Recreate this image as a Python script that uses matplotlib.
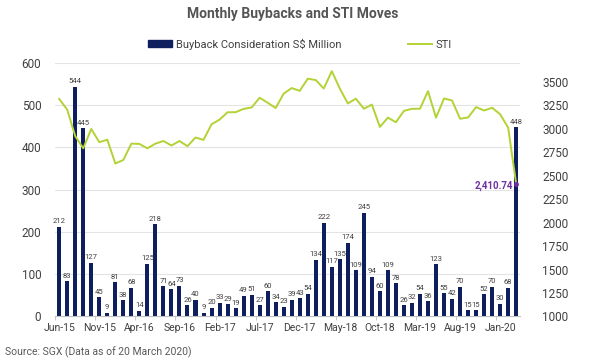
import numpy as np
import matplotlib
matplotlib.use("Agg")
import matplotlib.pyplot as plt
from matplotlib.patches import Patch
from matplotlib.lines import Line2D

plt.rcParams['font.family'] = ['Roboto', 'DejaVu Sans']

# Datos: recompras mensuales (S$ millones) y cierre mensual del STI
meses = ["Jun-15", "Jul-15", "Aug-15", "Sep-15", "Oct-15", "Nov-15", "Dec-15",
         "Jan-16", "Feb-16", "Mar-16", "Apr-16", "May-16", "Jun-16", "Jul-16",
         "Aug-16", "Sep-16", "Oct-16", "Nov-16", "Dec-16", "Jan-17", "Feb-17",
         "Mar-17", "Apr-17", "May-17", "Jun-17", "Jul-17", "Aug-17", "Sep-17",
         "Oct-17", "Nov-17", "Dec-17", "Jan-18", "Feb-18", "Mar-18", "Apr-18",
         "May-18", "Jun-18", "Jul-18", "Aug-18", "Sep-18", "Oct-18", "Nov-18",
         "Dec-18", "Jan-19", "Feb-19", "Mar-19", "Apr-19", "May-19", "Jun-19",
         "Jul-19", "Aug-19", "Sep-19", "Oct-19", "Nov-19", "Dec-19", "Jan-20",
         "Feb-20", "Mar-20"]

buybacks = [212, 83, 544, 445, 127, 45, 9, 81, 38, 68, 14, 125, 218, 71, 64, 73,
            26, 40, 9, 20, 33, 29, 19, 49, 51, 27, 60, 34, 23, 39, 43, 54, 134,
            222, 117, 135, 174, 109, 245, 94, 60, 109, 78, 26, 32, 54, 36, 123,
            55, 42, 70, 15, 15, 52, 70, 30, 68, 448]

sti = [3317, 3203, 2921, 2791, 2998, 2856, 2883, 2629, 2667, 2841, 2838, 2791,
       2841, 2869, 2821, 2869, 2814, 2906, 2881, 3047, 3097, 3175, 3176, 3211,
       3226, 3330, 3277, 3220, 3374, 3433, 3403, 3533, 3518, 3428, 3613, 3428,
       3269, 3320, 3213, 3257, 3019, 3118, 3069, 3190, 3212, 3213, 3400, 3118,
       3322, 3301, 3106, 3120, 3230, 3194, 3223, 3154, 3011, 2410.74]

color_barra = "#0f1f5e"
color_linea = "#b3d235"
gris = "#404040"

x = np.arange(len(meses))

fig = plt.figure(figsize=(6, 3.6), dpi=100)
ax = fig.add_axes([0.092, 0.121, 0.775, 0.704])
ax2 = ax.twinx()

ax.bar(x, buybacks, width=0.5, color=color_barra, zorder=2)
for xi, v in zip(x, buybacks):
    ax.text(xi, v + 6, str(v), ha="center", va="bottom", fontsize=5.5, color=gris)

ax.set_ylim(0, 600)
ax.set_xlim(-0.5, len(meses) - 0.5)
ax.set_yticks(range(0, 601, 100))
ax.grid(axis="y", color="#e4e4e4", linewidth=0.8, zorder=0)
ax.set_axisbelow(True)

ax.set_xticks(x[::5])
ax.set_xticklabels(meses[::5], fontsize=7.5, color=gris)
ax.set_xticks(np.arange(-0.5, len(meses), 5), minor=True)
ax.tick_params(axis="x", which="major", length=0, pad=5)
ax.tick_params(axis="x", which="minor", length=3, color="#bfbfbf")
ax.tick_params(axis="y", length=0, labelsize=8.5, colors=gris, pad=10)

ax2.plot(x, sti, color=color_linea, linewidth=1.4, zorder=3)
ax2.set_ylim(1000, 3700)
ax2.set_yticks(range(1000, 3501, 250))
ax2.tick_params(axis="y", length=0, labelsize=8.5, colors=gris, pad=16)

# Punto final del STI
ax2.plot(x[-1], sti[-1], "o", color="#7030a0", markersize=2.5, zorder=4)
ax2.text(x[-1] - 0.4, sti[-1] - 15, f"{sti[-1]:,.2f}", ha="right", va="center",
         fontsize=7, color="#7030a0", fontweight="bold")

for a in (ax, ax2):
    for s in ("top", "left", "right"):
        a.spines[s].set_visible(False)
ax.spines["bottom"].set_color("#bfbfbf")
ax2.spines["bottom"].set_visible(False)

fig.text(0.487, 0.96, "Monthly Buybacks and STI Moves", ha="center", va="center",
         fontsize=10, fontweight="bold", color="#555555")

manejadores = [Patch(color=color_barra), Line2D([], [], color=color_linea, linewidth=1.4)]
fig.legend(manejadores, ["Buyback Consideration S$ Million", "STI"], loc="center",
           bbox_to_anchor=(0.5, 0.877), ncol=2, frameon=False, fontsize=8,
           handlelength=2.2, handleheight=0.6, columnspacing=6, handletextpad=0.3,
           labelcolor=gris)

fig.text(0.008, 0.022, "Source: SGX (Data as of 20 March 2020)", ha="left", va="center",
         fontsize=7.5, color="#595959")

fig.savefig("out.png", dpi=100)
